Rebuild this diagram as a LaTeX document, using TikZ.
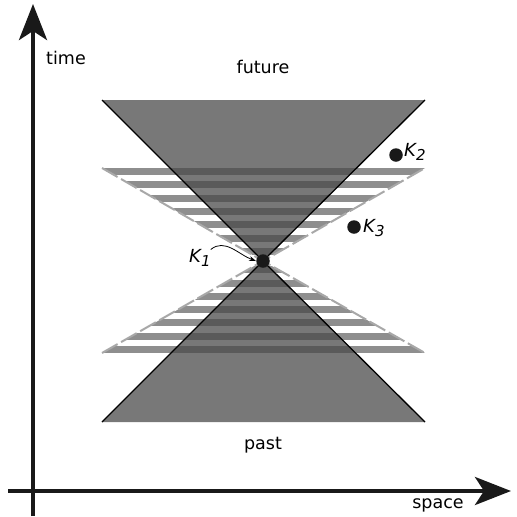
\documentclass[tikz,border=0pt]{standalone}
\usepackage{fontspec}
\setmainfont{DejaVu Sans}
\usetikzlibrary{arrows.meta}
\definecolor{conegray}{HTML}{787878}
\definecolor{bandlight}{HTML}{8E8E8E}
\definecolor{banddark}{HTML}{5A5A5A}
\definecolor{dashgray}{HTML}{A8A8A8}
\tikzset{
  axis/.style={line width=4pt, draw=black!90, -{Stealth[length=36pt,width=28pt,inset=9pt]}},
  lbl/.style={font=\fontsize{17.5}{20}\selectfont, inner sep=0pt},
  klbl/.style={font=\fontsize{18}{20}\selectfont\itshape, inner sep=0pt, anchor=west},
  dotnode/.style={circle, fill=black!90, inner sep=0pt, minimum size=13.5pt},
  conefill/.style={fill=conegray},
  coneedge/.style={draw=black, line width=1.3pt},
  dashedge/.style={draw=dashgray, line width=2pt, dash pattern=on 18pt off 4pt},
}
\begin{document}
\begin{tikzpicture}[x=1pt,y=-1pt]
\useasboundingbox (0,0) rectangle (517,517);
% corner coordinates
\coordinate (apex) at (263,261);
\coordinate (ctl) at (102,100);
\coordinate (ctr) at (425,100);
\coordinate (cbl) at (102,422);
\coordinate (cbr) at (425,422);
\coordinate (stl) at (102,168);
\coordinate (str) at (425,168);
\coordinate (sbl) at (102,353);
\coordinate (sbr) at (425,353);
% light stripes in the wide cone
\begin{scope}
  \clip (stl) -- (str) -- (apex) -- cycle (sbl) -- (sbr) -- (apex) -- cycle;
  \foreach \k in {0,...,6}{
    \fill[bandlight] (90,168+13.3*\k) rectangle (440,175+13.3*\k);
    \fill[bandlight] (90,353-13.3*\k) rectangle (440,346-13.3*\k);
  }
\end{scope}
% light cone
\fill[conefill] (ctl) -- (ctr) -- (apex) -- cycle;
\fill[conefill] (cbl) -- (cbr) -- (apex) -- cycle;
% dark stripes inside the light cone
\begin{scope}
  \clip (ctl) -- (ctr) -- (apex) -- cycle (cbl) -- (cbr) -- (apex) -- cycle;
  \clip (stl) -- (str) -- (apex) -- cycle (sbl) -- (sbr) -- (apex) -- cycle;
  \foreach \k in {0,...,6}{
    \fill[banddark] (90,168+13.3*\k) rectangle (440,175+13.3*\k);
    \fill[banddark] (90,353-13.3*\k) rectangle (440,346-13.3*\k);
  }
\end{scope}
% dashed outline of wide cone
\draw[dashedge] (stl) -- (apex) -- (str);
\draw[dashedge] (sbl) -- (apex) -- (sbr);
% light cone edges
\draw[coneedge] (ctl) -- (apex) -- (cbr);
\draw[coneedge] (ctr) -- (apex) -- (cbl);
% axes
\coordinate (tbot) at (33,516);
\coordinate (ttop) at (33,4);
\coordinate (sleft) at (8,491);
\coordinate (sright) at (511,491);
\draw[axis] (tbot) -- (ttop);
\draw[axis] (sleft) -- (sright);
% labels
\node[lbl] (time) at (66,58) {time};
\node[lbl] (future) at (263,67) {future};
\node[lbl] (past) at (263,445) {past};
\node[lbl] (space) at (438,505) {space};
% events
\node[dotnode] (K1) at (apex) {};
\node[dotnode] (K2) at (396,155) {};
\node[dotnode] (K3) at (354,227) {};
\node[klbl] (K2l) at (404,152) {K\raisebox{-0.35ex}{\fontsize{15}{16}\selectfont 2}};
\node[klbl] (K3l) at (363,228) {K\raisebox{-0.35ex}{\fontsize{15}{16}\selectfont 3}};
\node[klbl] (K1l) at (189,258) {K\raisebox{-0.35ex}{\fontsize{15}{16}\selectfont 1}};
\draw[line width=0.8pt, -{Stealth[length=7pt,width=5pt]}] (K1l.north east) to[out=40,in=160] (K1.west);
\end{tikzpicture}
\end{document}
